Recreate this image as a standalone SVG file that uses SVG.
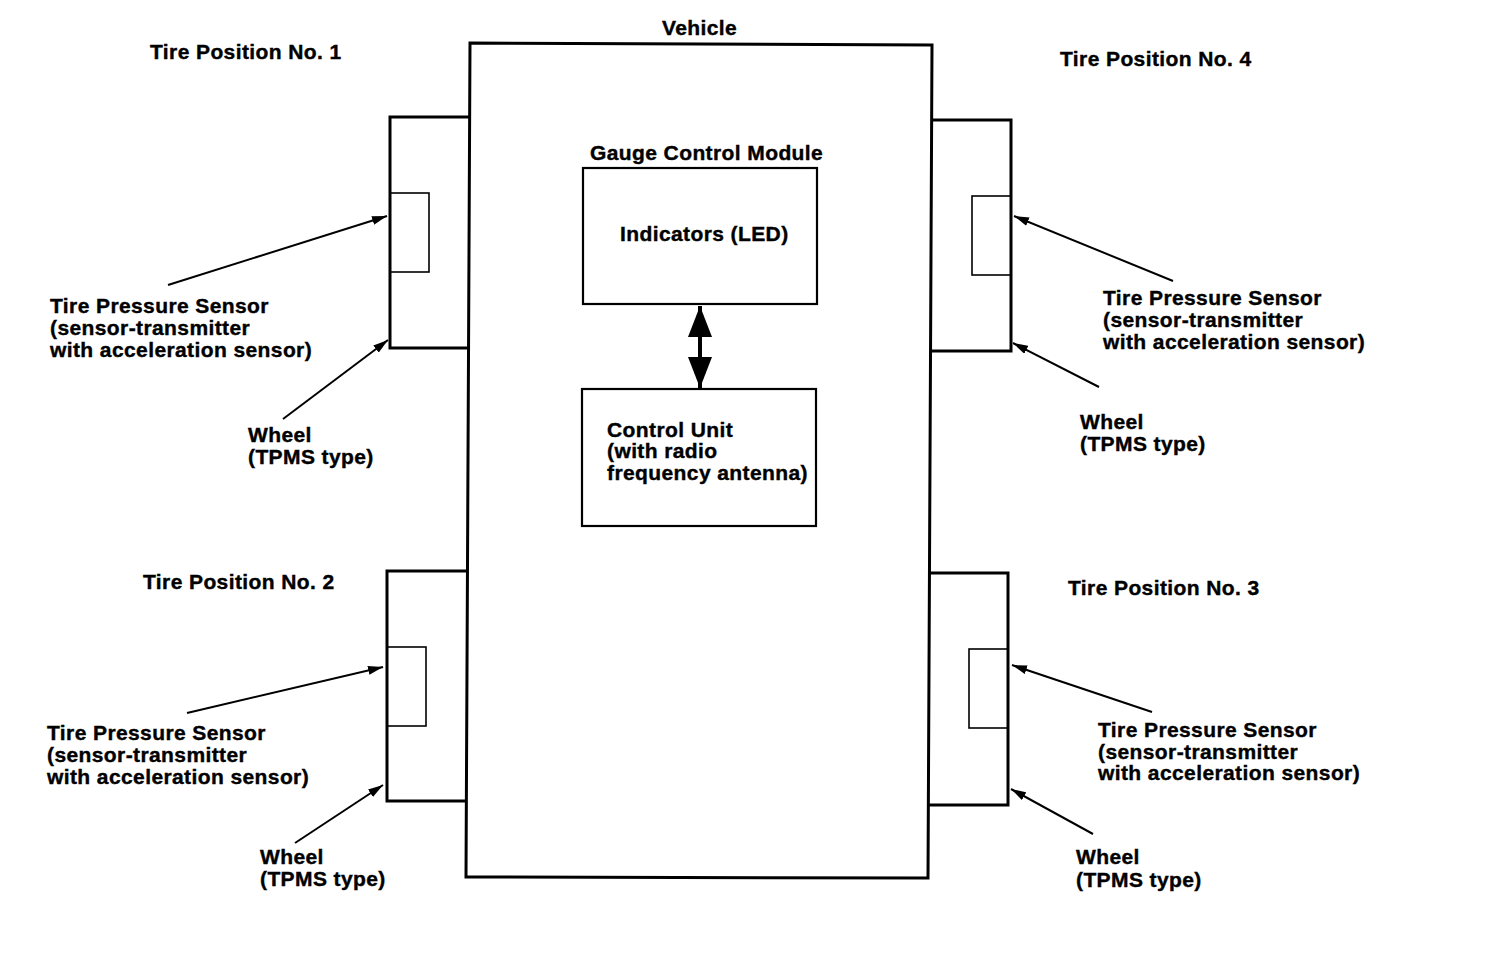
<svg xmlns="http://www.w3.org/2000/svg" width="1504" height="964" viewBox="0 0 1504 964">
<style>
text{font-family:"Liberation Sans",Arial,Helvetica,sans-serif;font-weight:bold;font-size:21px;letter-spacing:0.4px;fill:#000;stroke:#000;stroke-width:0.4}
.thick{fill:none;stroke:#000;stroke-width:3}
.box{fill:none;stroke:#000;stroke-width:2.2}
.sensor{fill:none;stroke:#000;stroke-width:1.6}
.lead{fill:none;stroke:#000;stroke-width:2;marker-end:url(#ah)}
.dbl{fill:none;stroke:#000;stroke-width:4;marker-start:url(#big);marker-end:url(#big)}
</style>
<defs>
<marker id="ah" viewBox="0 0 15 9" refX="15" refY="4.5" markerWidth="15" markerHeight="9" markerUnits="userSpaceOnUse" orient="auto"><path d="M0,0 L15,4.5 L0,9 z" fill="#000"/></marker>
<marker id="big" viewBox="0 0 31 24" refX="31" refY="12" markerWidth="31" markerHeight="24" markerUnits="userSpaceOnUse" orient="auto-start-reverse"><path d="M0,0 L31,12 L0,24 z" fill="#000"/></marker>
</defs>
<rect width="1504" height="964" fill="#fff"/>

<g id="vehicle">
<polygon class="thick" points="470,43 932,45 928,878 466,877"/>
<text x="662" y="35">Vehicle</text>
</g>

<g id="gauge-control-module">
<text x="590" y="160">Gauge Control Module</text>
</g>

<g id="indicators">
<rect class="box" x="583" y="168" width="234" height="136"/>
<text x="620" y="241">Indicators (LED)</text>
</g>

<g id="control-unit">
<rect class="box" x="582" y="389" width="234" height="137"/>
<text x="607" y="437">Control Unit</text>
<text x="607" y="458">(with radio</text>
<text x="607" y="480">frequency antenna)</text>
</g>

<g id="tire1">
<polyline class="thick" points="469,117 390,117 390,348 469,348"/>
<rect class="sensor" x="390" y="193" width="39" height="79"/>
<text x="150" y="59">Tire Position No. 1</text>
<text x="50" y="313">Tire Pressure Sensor</text>
<text x="50" y="335">(sensor-transmitter</text>
<text x="50" y="357">with acceleration sensor)</text>
<text x="248" y="442">Wheel</text>
<text x="248" y="464">(TPMS type)</text>
</g>

<g id="tire4">
<polyline class="thick" points="932,120 1011,120 1011,351 931,351"/>
<rect class="sensor" x="972" y="196" width="39" height="79"/>
<text x="1060" y="66">Tire Position No. 4</text>
<text x="1103" y="305">Tire Pressure Sensor</text>
<text x="1103" y="327">(sensor-transmitter</text>
<text x="1103" y="349">with acceleration sensor)</text>
<text x="1080" y="429">Wheel</text>
<text x="1080" y="451">(TPMS type)</text>
</g>

<g id="tire2">
<polyline class="thick" points="467,571 387,571 387,801 466,801"/>
<rect class="sensor" x="387" y="647" width="39" height="79"/>
<text x="143" y="589">Tire Position No. 2</text>
<text x="47" y="740">Tire Pressure Sensor</text>
<text x="47" y="762">(sensor-transmitter</text>
<text x="47" y="784">with acceleration sensor)</text>
<text x="260" y="864">Wheel</text>
<text x="260" y="886">(TPMS type)</text>
</g>

<g id="tire3">
<polyline class="thick" points="929,573 1008,573 1008,805 929,805"/>
<rect class="sensor" x="969" y="649" width="39" height="79"/>
<text x="1068" y="595">Tire Position No. 3</text>
<text x="1098" y="737">Tire Pressure Sensor</text>
<text x="1098" y="759">(sensor-transmitter</text>
<text x="1098" y="780">with acceleration sensor)</text>
<text x="1076" y="864">Wheel</text>
<text x="1076" y="887">(TPMS type)</text>
</g>

<g id="connectors">
<line class="dbl" x1="700" y1="306" x2="700" y2="388"/>
<line class="lead" x1="168" y1="285" x2="387" y2="216"/>
<line class="lead" x1="283" y1="419" x2="388" y2="340"/>
<line class="lead" x1="1173" y1="281" x2="1014" y2="216"/>
<line class="lead" x1="1099" y1="387" x2="1013" y2="343"/>
<line class="lead" x1="187" y1="713" x2="383" y2="667"/>
<line class="lead" x1="295" y1="843" x2="383" y2="785"/>
<line class="lead" x1="1152" y1="712" x2="1012" y2="665"/>
<line class="lead" x1="1093" y1="834" x2="1011" y2="789"/>
</g>
</svg>
